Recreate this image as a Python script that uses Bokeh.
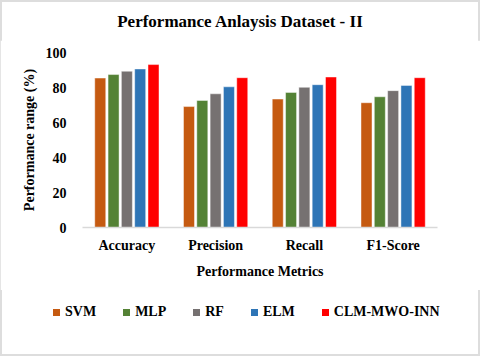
from bokeh.plotting import figure
from bokeh.layouts import column
from bokeh.models import FactorRange, Range1d, ColumnDataSource, FixedTicker, Div
from bokeh.transform import dodge
from bokeh.embed import file_html
from bokeh.resources import INLINE

title_text = "Performance Anlaysis Dataset - II"
categories = ["Accuracy", "Precision", "Recall", "F1-Score"]
methods = ["SVM", "MLP", "RF", "ELM", "CLM-MWO-INN"]
svm = [85.4, 69.1, 73.4, 71.3]
mlp = [87.4, 72.6, 77.2, 74.7]
rf = [89.3, 76.4, 80.1, 78.2]
elm = [90.6, 80.4, 81.6, 81.2]
clm = [93.1, 85.6, 86.0, 85.6]
y_ticks = [0, 20, 40, 60, 80, 100]

colors = ["#C55A11", "#548235", "#767171", "#2E75B6", "#FF0000"]

FONT = "Liberation Serif"

# title strip
title_div = Div(
    text=(f'<div style="width:480px;height:40px;box-sizing:border-box;padding-top:12px;'
          f'text-align:center;font-family:\'{FONT}\';font-weight:bold;font-size:17px;'
          f'line-height:20px;color:#000;white-space:nowrap;">{title_text}</div>'),
    width=480, height=40, margin=0)

p = figure(width=480, height=250, x_range=FactorRange(*categories, range_padding=0),
           y_range=Range1d(0, 100), output_backend="svg", toolbar_location=None,
           min_border_left=82, min_border_right=43, min_border_top=12, min_border_bottom=63)

src = ColumnDataSource(dict(cat=categories, SVM=svm, MLP=mlp, RF=rf, ELM=elm, CLM=clm))
keys = ["SVM", "MLP", "RF", "ELM", "CLM"]
offsets = [-0.30, -0.15, 0.0, 0.15, 0.30]
for k, off, c in zip(keys, offsets, colors):
    p.vbar(x=dodge("cat", off, range=p.x_range), top=k, width=0.124, source=src,
           fill_color=c, line_color="white", line_alpha=0.45, line_width=1)

p.xgrid.visible = False
p.ygrid.visible = False
p.outline_line_color = None

p.yaxis.ticker = FixedTicker(ticks=y_ticks)
p.yaxis.axis_line_color = None
p.yaxis.major_tick_line_color = None
p.yaxis.minor_tick_line_color = None
p.yaxis.major_label_standoff = 10
p.yaxis.axis_label = "Performance range (%)"
p.yaxis.axis_label_standoff = 6

p.xaxis.axis_line_color = "#D9D9D9"
p.xaxis.axis_line_width = 1.5
p.xaxis.major_tick_line_color = None
p.xaxis.minor_tick_line_color = None
p.xaxis.major_label_standoff = 4
p.xaxis.axis_label = "Performance Metrics"
p.xaxis.axis_label_standoff = 8

for ax in (p.xaxis[0], p.yaxis[0]):
    ax.major_label_text_font = FONT
    ax.major_label_text_font_size = "14px"
    ax.major_label_text_font_style = "bold"
    ax.major_label_text_color = "#000000"
    ax.axis_label_text_font = FONT
    ax.axis_label_text_font_size = "14px"
    ax.axis_label_text_font_style = "bold"
    ax.axis_label_text_color = "#000000"

# legend strip below the chart
items_html = ""
for m, c in zip(methods, colors):
    items_html += (f'<span style="display:inline-block;width:7px;height:7px;background:{c};'
                   f'margin-right:5px;"></span>'
                   f'<span style="margin-right:27px;">{m}</span>')
legend_div = Div(
    text=(f'<div style="position:relative;width:480px;height:66px;font-family:\'{FONT}\';'
          f'font-weight:bold;font-size:14px;color:#000;">'
          f'<div style="position:absolute;left:53px;top:14px;height:16px;display:flex;'
          f'align-items:center;white-space:nowrap;line-height:16px;">{items_html}</div></div>'),
    width=480, height=66, margin=0)

layout = column(title_div, p, legend_div, spacing=0)
layout.styles = {"outline": "2px solid #DDDDDD", "outline-offset": "-2px"}

open("out.html", "w").write(file_html(layout, INLINE))
